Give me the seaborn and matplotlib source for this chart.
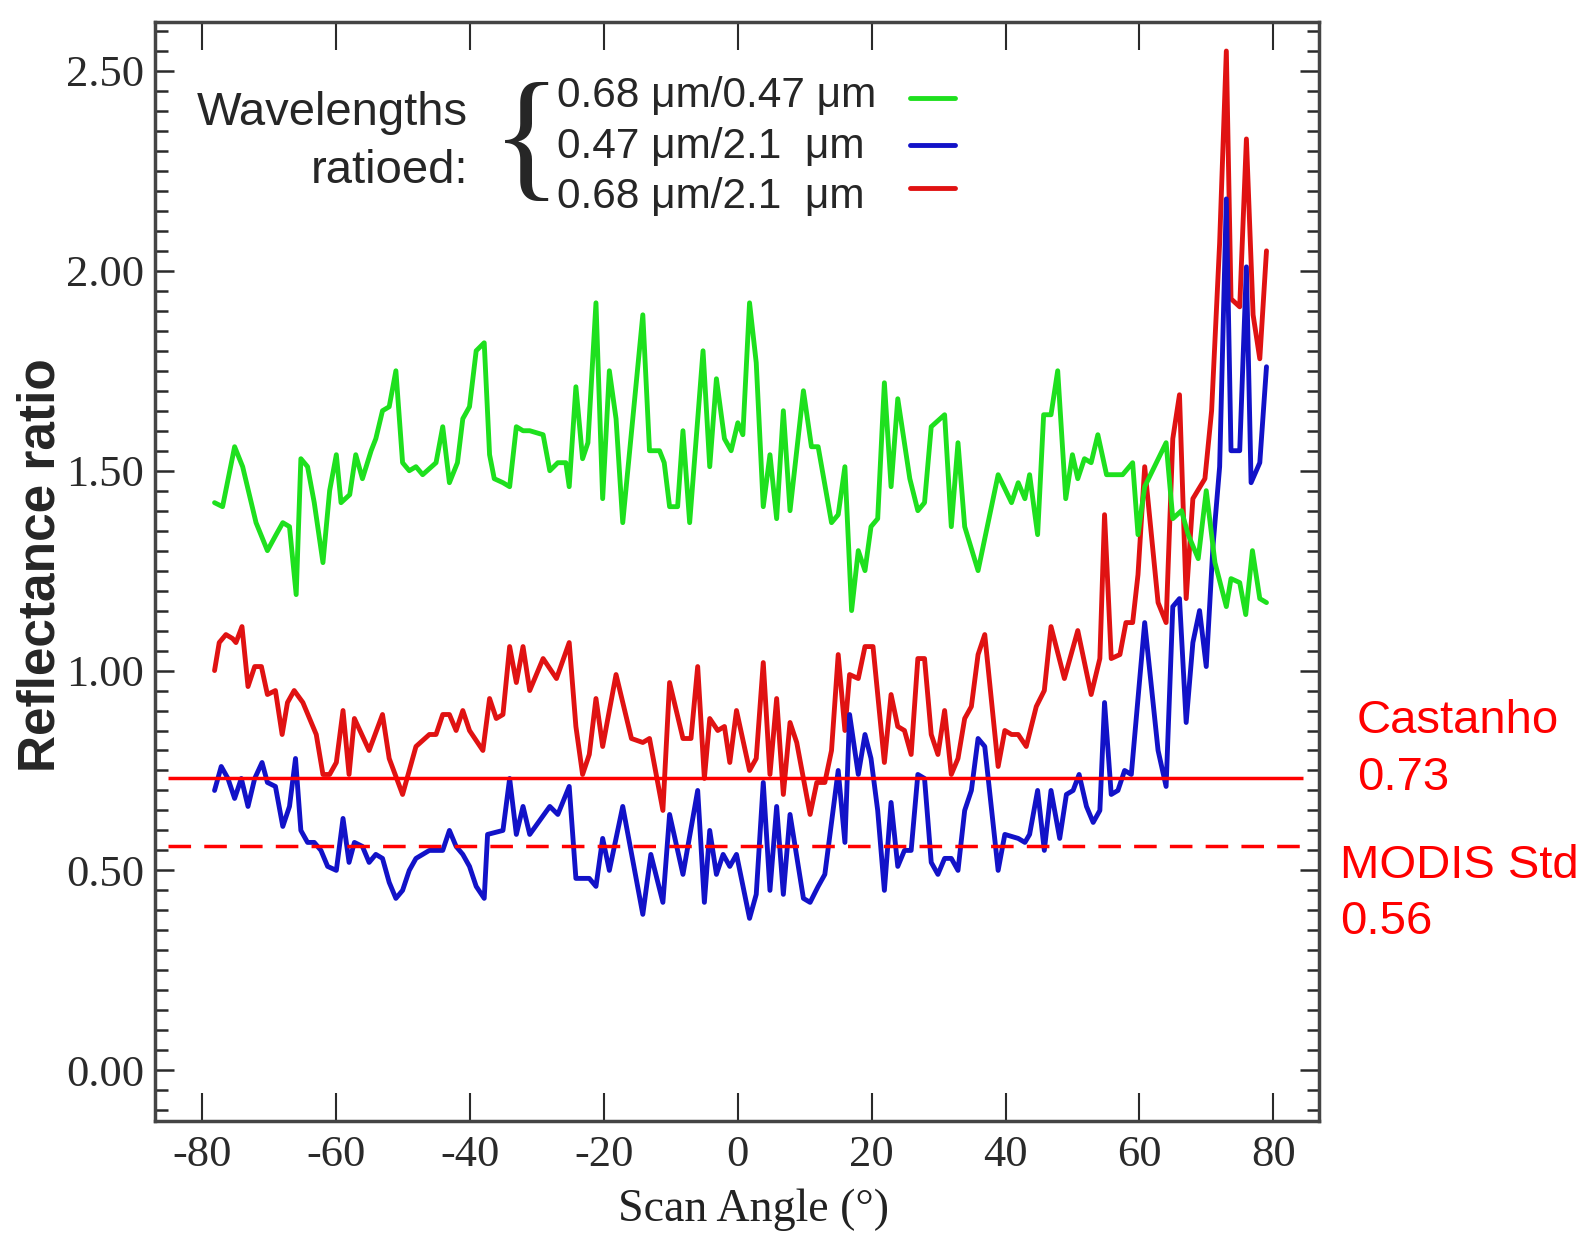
import numpy as np
import pandas as pd
import matplotlib
matplotlib.use("Agg")
import matplotlib.pyplot as plt
from matplotlib.ticker import MultipleLocator, FormatStrFormatter
import seaborn as sns

# 0.68/0.47 ratio (green)
green_x = [-78.2, -77.0, -75.2, -74.0, -72.0, -70.3, -69.0, -68.0, -67.0, -66.0, -65.3, -64.3, -63.3, -62.0,
           -61.0, -60.0, -59.3, -58.0, -57.1, -56.1, -54.8, -54.1, -53.1, -52.1, -51.1, -50.1, -49.1, -48.1,
           -47.1, -45.1, -44.1, -43.1, -41.9, -41.1, -40.1, -39.1, -37.9, -37.1, -36.4, -35.1, -34.1, -33.1,
           -32.1, -31.1, -29.1, -28.1, -26.9, -25.7, -25.2, -24.2, -23.2, -22.4, -21.2, -20.2, -19.2, -18.2,
           -17.2, -14.2, -13.2, -11.7, -11.0, -10.2, -9.0, -8.2, -7.2, -5.2, -4.2, -3.2, -2.0, -1.0, 0.0, 0.75,
           1.75, 2.75, 3.8, 4.8, 5.8, 6.8, 7.8, 9.8, 11.0, 12.0, 14.0, 15.0, 16.0, 17.0, 18.0, 19.0, 19.9, 20.9,
           21.9, 22.9, 23.9, 25.7, 26.9, 27.9, 28.9, 30.9, 31.9, 32.9, 33.9, 35.9, 38.9, 40.9, 41.9, 42.9,
           43.6, 44.8, 45.7, 46.8, 47.8, 49.0, 50.0, 50.8, 51.8, 52.8, 53.8, 55.1, 56.3, 57.5, 59.0, 59.8,
           60.8, 64.0, 65.0, 66.3, 67.3, 68.8, 70.0, 71.3, 73.0, 73.7, 75.0, 75.9, 76.9, 78.0, 79.0]
green_y = [1.42, 1.41, 1.56, 1.51, 1.37, 1.30, 1.34, 1.37, 1.36, 1.19, 1.53, 1.51, 1.42, 1.27,
           1.45, 1.54, 1.42, 1.44, 1.54, 1.48, 1.55, 1.58, 1.65, 1.66, 1.75, 1.52, 1.50, 1.51,
           1.49, 1.52, 1.61, 1.47, 1.52, 1.63, 1.66, 1.80, 1.82, 1.54, 1.48, 1.47, 1.46, 1.61,
           1.60, 1.60, 1.59, 1.50, 1.52, 1.52, 1.46, 1.71, 1.53, 1.57, 1.92, 1.43, 1.75, 1.63,
           1.37, 1.89, 1.55, 1.55, 1.52, 1.41, 1.41, 1.60, 1.37, 1.80, 1.51, 1.73, 1.58, 1.55, 1.62, 1.59,
           1.92, 1.77, 1.41, 1.54, 1.38, 1.65, 1.40, 1.70, 1.56, 1.56, 1.37, 1.39, 1.51, 1.15, 1.30, 1.25, 1.36, 1.38,
           1.72, 1.46, 1.68, 1.48, 1.40, 1.42, 1.61, 1.64, 1.36, 1.57, 1.36, 1.25, 1.49, 1.42, 1.47, 1.43,
           1.49, 1.34, 1.64, 1.64, 1.75, 1.43, 1.54, 1.48, 1.53, 1.52, 1.59, 1.49, 1.49, 1.49, 1.52, 1.34,
           1.46, 1.57, 1.38, 1.40, 1.34, 1.28, 1.45, 1.27, 1.16, 1.23, 1.22, 1.14, 1.30, 1.18, 1.17]

# 0.47/2.1 ratio (blue)
blue_x = [-78.2, -77.2, -76.2, -75.2, -74.2, -73.2, -72.2, -71.1, -70.3, -69.1, -68.0, -67.0, -66.1, -65.3,
          -64.3, -63.3, -62.3, -61.3, -60.0, -59.0, -58.1, -57.3, -56.1, -55.1, -54.1, -53.1, -52.1, -51.1,
          -50.1, -49.1, -48.1, -47.1, -46.1, -45.1, -44.1, -43.1, -42.1, -41.1, -40.1, -39.1, -37.9, -37.4,
          -35.1, -34.1, -33.1, -32.1, -31.1, -28.1, -26.9, -25.2, -24.2, -22.2, -21.2, -20.2, -19.2, -17.2,
          -14.2, -13.0, -11.2, -10.2, -8.2, -6.0, -5.0, -4.2, -3.2, -2.2, -1.2, -0.2,
          1.75, 2.75, 3.8, 4.8, 5.8, 6.8, 7.8, 9.8, 10.8, 12.0, 13.0, 15.0, 16.0, 16.7, 18.0, 19.0, 19.9, 20.9,
          21.9, 22.9, 23.9, 24.9, 25.9, 26.9, 27.9, 28.9, 29.9, 30.9, 31.9, 32.9, 33.9, 34.9, 35.9, 36.9,
          38.9, 39.9, 41.9, 42.9, 43.6, 44.8, 45.8, 46.8, 48.1, 49.1, 50.1, 51.0, 52.1, 53.1, 54.1, 54.8,
          55.8, 56.8, 57.8, 58.8, 60.8, 62.8, 64.0, 65.0, 66.0, 67.0, 68.0, 69.0, 70.0, 71.0, 72.0, 73.0,
          73.7, 75.0, 76.0, 76.7, 78.0, 79.0]
blue_y = [0.70, 0.76, 0.73, 0.68, 0.73, 0.66, 0.73, 0.77, 0.72, 0.71, 0.61, 0.66, 0.78, 0.60,
          0.57, 0.57, 0.55, 0.51, 0.50, 0.63, 0.52, 0.57, 0.56, 0.52, 0.54, 0.53, 0.47, 0.43,
          0.45, 0.50, 0.53, 0.54, 0.55, 0.55, 0.55, 0.60, 0.56, 0.54, 0.51, 0.46, 0.43, 0.59,
          0.60, 0.73, 0.59, 0.66, 0.59, 0.66, 0.64, 0.71, 0.48, 0.48, 0.46, 0.58, 0.50, 0.66,
          0.39, 0.54, 0.42, 0.64, 0.49, 0.70, 0.42, 0.60, 0.49, 0.54, 0.51, 0.54,
          0.38, 0.44, 0.72, 0.45, 0.66, 0.44, 0.64, 0.43, 0.42, 0.46, 0.49, 0.75, 0.57, 0.89, 0.74, 0.84, 0.78, 0.65,
          0.45, 0.67, 0.51, 0.55, 0.55, 0.74, 0.73, 0.52, 0.49, 0.53, 0.53, 0.50, 0.65, 0.70, 0.83, 0.81,
          0.50, 0.59, 0.58, 0.57, 0.59, 0.70, 0.55, 0.70, 0.58, 0.69, 0.70, 0.74, 0.66, 0.62, 0.65, 0.92,
          0.69, 0.70, 0.75, 0.74, 1.12, 0.80, 0.71, 1.16, 1.18, 0.87, 1.07, 1.15, 1.01, 1.31, 1.51, 2.18,
          1.55, 1.55, 2.01, 1.47, 1.52, 1.76]

# 0.68/2.1 ratio (red)
red_x = [-78.2, -77.5, -76.5, -75.5, -75.0, -74.1, -73.2, -72.2, -71.2, -70.3, -69.1, -68.1, -67.3, -66.3,
         -65.0, -64.0, -63.0, -62.0, -61.0, -60.0, -59.0, -58.1, -57.3, -55.1, -53.1, -52.1, -50.1, -48.1,
         -46.1, -45.1, -44.1, -43.1, -42.1, -41.1, -40.1, -38.1, -37.1, -36.1, -35.1, -34.1, -33.1, -32.1,
         -31.1, -29.1, -27.1, -25.2, -24.2, -23.2, -22.2, -21.2, -20.2, -18.2, -15.9, -14.2, -13.2, -11.2,
         -10.2, -8.2, -7.0, -6.0, -5.0, -4.2, -3.0, -2.0, -1.2, -0.2,
         1.75, 2.75, 3.8, 4.8, 5.8, 6.8, 7.8, 8.8, 10.8, 11.8, 13.0, 14.0, 15.0, 16.0, 16.7, 18.0, 19.0, 20.2,
         21.9, 22.9, 23.9, 24.9, 25.9, 26.9, 27.9, 28.9, 29.9, 30.9, 31.9, 32.9, 33.9, 34.9, 35.9, 36.9,
         38.9, 39.9, 40.9, 41.9, 43.1, 44.6, 45.8, 46.8, 48.8, 50.8, 52.8, 54.1, 54.8, 55.8, 57.1, 58.0,
         59.0, 59.8, 60.8, 62.8, 64.0, 65.0, 66.0, 67.0, 68.0, 69.8, 70.8, 72.0, 73.0, 73.7, 75.0, 76.0,
         77.0, 78.0, 79.0]
red_y = [1.00, 1.07, 1.09, 1.08, 1.07, 1.11, 0.96, 1.01, 1.01, 0.94, 0.95, 0.84, 0.92, 0.95,
         0.92, 0.88, 0.84, 0.74, 0.74, 0.77, 0.90, 0.74, 0.88, 0.80, 0.89, 0.78, 0.69, 0.81,
         0.84, 0.84, 0.89, 0.89, 0.85, 0.90, 0.85, 0.80, 0.93, 0.88, 0.89, 1.06, 0.97, 1.06,
         0.95, 1.03, 0.98, 1.07, 0.86, 0.74, 0.79, 0.93, 0.81, 0.99, 0.83, 0.82, 0.83, 0.65,
         0.97, 0.83, 0.83, 1.01, 0.73, 0.88, 0.85, 0.86, 0.77, 0.90,
         0.75, 0.78, 1.02, 0.74, 0.93, 0.69, 0.87, 0.82, 0.64, 0.72, 0.72, 0.80, 1.04, 0.85, 0.99, 0.98, 1.06, 1.06,
         0.77, 0.94, 0.86, 0.85, 0.79, 1.03, 1.03, 0.84, 0.79, 0.90, 0.74, 0.78, 0.88, 0.91, 1.04, 1.09,
         0.76, 0.85, 0.84, 0.84, 0.81, 0.91, 0.95, 1.11, 0.98, 1.10, 0.94, 1.03, 1.39, 1.03, 1.04, 1.12,
         1.12, 1.24, 1.51, 1.17, 1.12, 1.58, 1.69, 1.18, 1.43, 1.48, 1.65, 2.07, 2.55, 1.93, 1.91, 2.33,
         1.89, 1.78, 2.05]

# reference thresholds
castanho = 0.73
modis_std = 0.56
ref_span = (-85.1, 84.5)

legend_labels = ["0.68 \u03bcm/0.47 \u03bcm", "0.47 \u03bcm/2.1  \u03bcm", "0.68 \u03bcm/2.1  \u03bcm"]
green_c = "#1EE01E"
blue_c = "#1212C8"
red_c = "#E01212"

sns.set_style("ticks")
plt.rcParams["font.family"] = ["Liberation Serif", "DejaVu Serif"]
plt.rcParams["axes.unicode_minus"] = False

fig = plt.figure(figsize=(15.88, 12.35), dpi=100)
ax = fig.add_axes([0.0976, 0.0923, 0.7328, 0.8897])

sns.lineplot(x=red_x, y=red_y, color=red_c, linewidth=3.5, sort=False, estimator=None, ax=ax)
sns.lineplot(x=blue_x, y=blue_y, color=blue_c, linewidth=3.5, sort=False, estimator=None, ax=ax)
sns.lineplot(x=green_x, y=green_y, color=green_c, linewidth=3.5, sort=False, estimator=None, ax=ax)

ax.hlines(castanho, ref_span[0], ref_span[1], color="#FF0000", linewidth=2.5, zorder=5)
ax.hlines(modis_std, ref_span[0], ref_span[1], color="#FF0000", linewidth=2.5, zorder=5,
          linestyles=(0, (6.5, 3.8)))

ax.set_xlim(-87.1, 86.8)
ax.set_ylim(-0.127, 2.622)
ax.set_xticks(range(-80, 81, 20))
ax.set_yticks([0.0, 0.5, 1.0, 1.5, 2.0, 2.5])
ax.yaxis.set_minor_locator(MultipleLocator(0.05))
ax.yaxis.set_major_formatter(FormatStrFormatter("%.2f"))

ax.tick_params(axis="x", direction="in", length=20, width=1.5, top=True, labelsize=32, pad=10,
               colors="#2a2a2a")
ax.tick_params(axis="y", which="major", direction="in", length=14, width=1.8, right=True,
               labelsize=32, pad=8, colors="#2a2a2a")
ax.tick_params(axis="y", which="minor", direction="in", length=9, width=1.8, right=True,
               colors="#2a2a2a")
for s in ax.spines.values():
    s.set_linewidth(2.5)
    s.set_color("#444444")

ax.set_xlabel("Scan Angle (\u00b0)", fontsize=33, color="#222222")
ax.xaxis.set_label_coords(0.514, -0.081)
ax.xaxis.label.set_va("center")
ax.set_ylabel("Reflectance ratio", fontsize=37, fontweight="bold", family="Liberation Sans")
ax.yaxis.set_label_coords(-0.098, 0.506)
ax.yaxis.label.set_va("center")

# legend block
ax.text(0.269, 0.917, "Wavelengths", transform=ax.transAxes, ha="right", va="center",
        fontsize=34, family="Liberation Sans")
ax.text(0.269, 0.865, "ratioed:", transform=ax.transAxes, ha="right", va="center",
        fontsize=34, family="Liberation Sans")
ax.text(0.319, 0.886, "{", transform=ax.transAxes, ha="center", va="center",
        fontsize=104, family="Liberation Serif")
label_y = [0.9327, 0.8866, 0.8405]
line_y = [0.931, 0.8885, 0.8488]
for lab, ly, sy, c in zip(legend_labels, label_y, line_y, [green_c, blue_c, red_c]):
    ax.text(0.3455, ly, lab, transform=ax.transAxes, ha="left", va="center",
            fontsize=30.5, family="Liberation Sans")
    ax.plot([0.6484, 0.6875], [sy, sy], transform=ax.transAxes, color=c, linewidth=3.5)

# threshold annotations
ax.text(1.033, 0.364, "Castanho", transform=ax.transAxes, ha="left", va="center",
        fontsize=34, color="#FF0000", family="Liberation Sans", clip_on=False)
ax.text(1.033, 0.3124, "0.73", transform=ax.transAxes, ha="left", va="center",
        fontsize=34, color="#FF0000", family="Liberation Sans", clip_on=False)
ax.text(1.0183, 0.2322, "MODIS Std", transform=ax.transAxes, ha="left", va="center",
        fontsize=34, color="#FF0000", family="Liberation Sans", clip_on=False)
ax.text(1.0183, 0.1815, "0.56", transform=ax.transAxes, ha="left", va="center",
        fontsize=34, color="#FF0000", family="Liberation Sans", clip_on=False)

fig.savefig("out.png", dpi=100)
